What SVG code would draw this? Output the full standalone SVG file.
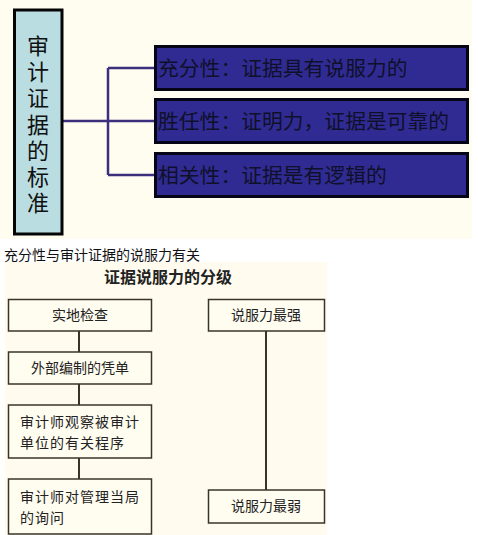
<svg xmlns="http://www.w3.org/2000/svg" width="478" height="535" viewBox="0 0 478 535">
<style>
.cjk{font-family:"Liberation Sans","Noto Sans CJK SC",sans-serif}
.bluebox{fill:#2f2b93;stroke:#050515;stroke-width:3}
.btxt{font-size:20.8px;fill:#10102a}
.conn1{stroke:#3b2f7e;stroke-width:2.5;fill:none}
.pbox{fill:#fffcf0;stroke:#3a3428;stroke-width:1.5}
.ptxt{font-size:14px;fill:#222}
.conn2{stroke:#3a3428;stroke-width:2;fill:none}
</style>
<rect x="0" y="0" width="478" height="535" fill="#ffffff"/>
<rect x="0" y="0" width="472" height="239" fill="#fffdf0"/>
<rect x="5" y="262" width="322" height="273" fill="#fffcef"/>

<g id="connectors">
<path class="conn1" d="M63 121 H108 M108 68 V175 M108 68 H155 M108 121 H155 M108 175 H155"/>
<path class="conn2" d="M79 331 V352 M79 384 V405 M79 458 V479 M266 331 V490"/>
</g>

<g id="root">
<rect x="14.5" y="10" width="47.5" height="224" fill="#b9dde1" stroke="#050505" stroke-width="3"/>
<text class="cjk" font-size="22" fill="#111" text-anchor="middle">
<tspan x="38" y="54">审</tspan><tspan x="38" y="80">计</tspan><tspan x="38" y="106">证</tspan><tspan x="38" y="133">据</tspan><tspan x="38" y="159">的</tspan><tspan x="38" y="185">标</tspan><tspan x="38" y="211">准</tspan>
</text>
</g>

<g id="n1">
<rect class="bluebox" x="155.5" y="46.5" width="312" height="43"/>
<text class="cjk btxt" x="158" y="75.5">充分性：证据具有说服力的</text>
</g>
<g id="n2">
<rect class="bluebox" x="155.5" y="99.5" width="312" height="43"/>
<text class="cjk btxt" x="158" y="128.5">胜任性：证明力，证据是可靠的</text>
</g>
<g id="n3">
<rect class="bluebox" x="155.5" y="153.5" width="312" height="43"/>
<text class="cjk btxt" x="158" y="182.5">相关性：证据是有逻辑的</text>
</g>

<text class="cjk" x="4" y="260" font-size="14" fill="#111">充分性与审计证据的说服力有关</text>
<text class="cjk" x="168" y="283" font-size="16" font-weight="bold" fill="#222" text-anchor="middle">证据说服力的分级</text>

<g id="b1">
<rect class="pbox" x="8.5" y="299.5" width="143" height="31.5"/>
<text class="cjk ptxt" x="80" y="320" text-anchor="middle">实地检查</text>
</g>
<g id="b2">
<rect class="pbox" x="8.5" y="352" width="143" height="32"/>
<text class="cjk ptxt" x="80" y="373" text-anchor="middle">外部编制的凭单</text>
</g>
<g id="b3">
<rect class="pbox" x="8.5" y="405" width="143" height="53"/>
<text class="cjk ptxt" x="20" y="427" letter-spacing="1">审计师观察被审计</text>
<text class="cjk ptxt" x="20" y="448" letter-spacing="1">单位的有关程序</text>
</g>
<g id="b4">
<rect class="pbox" x="8.5" y="479" width="143" height="55"/>
<text class="cjk ptxt" x="20" y="502" letter-spacing="1">审计师对管理当局</text>
<text class="cjk ptxt" x="20" y="523" letter-spacing="1">的询问</text>
</g>
<g id="s1">
<rect class="pbox" x="208.5" y="299.5" width="116" height="31.5"/>
<text class="cjk ptxt" x="266" y="320" text-anchor="middle">说服力最强</text>
</g>
<g id="s2">
<rect class="pbox" x="208.5" y="490" width="116" height="33"/>
<text class="cjk ptxt" x="266" y="511" text-anchor="middle">说服力最弱</text>
</g>
</svg>
